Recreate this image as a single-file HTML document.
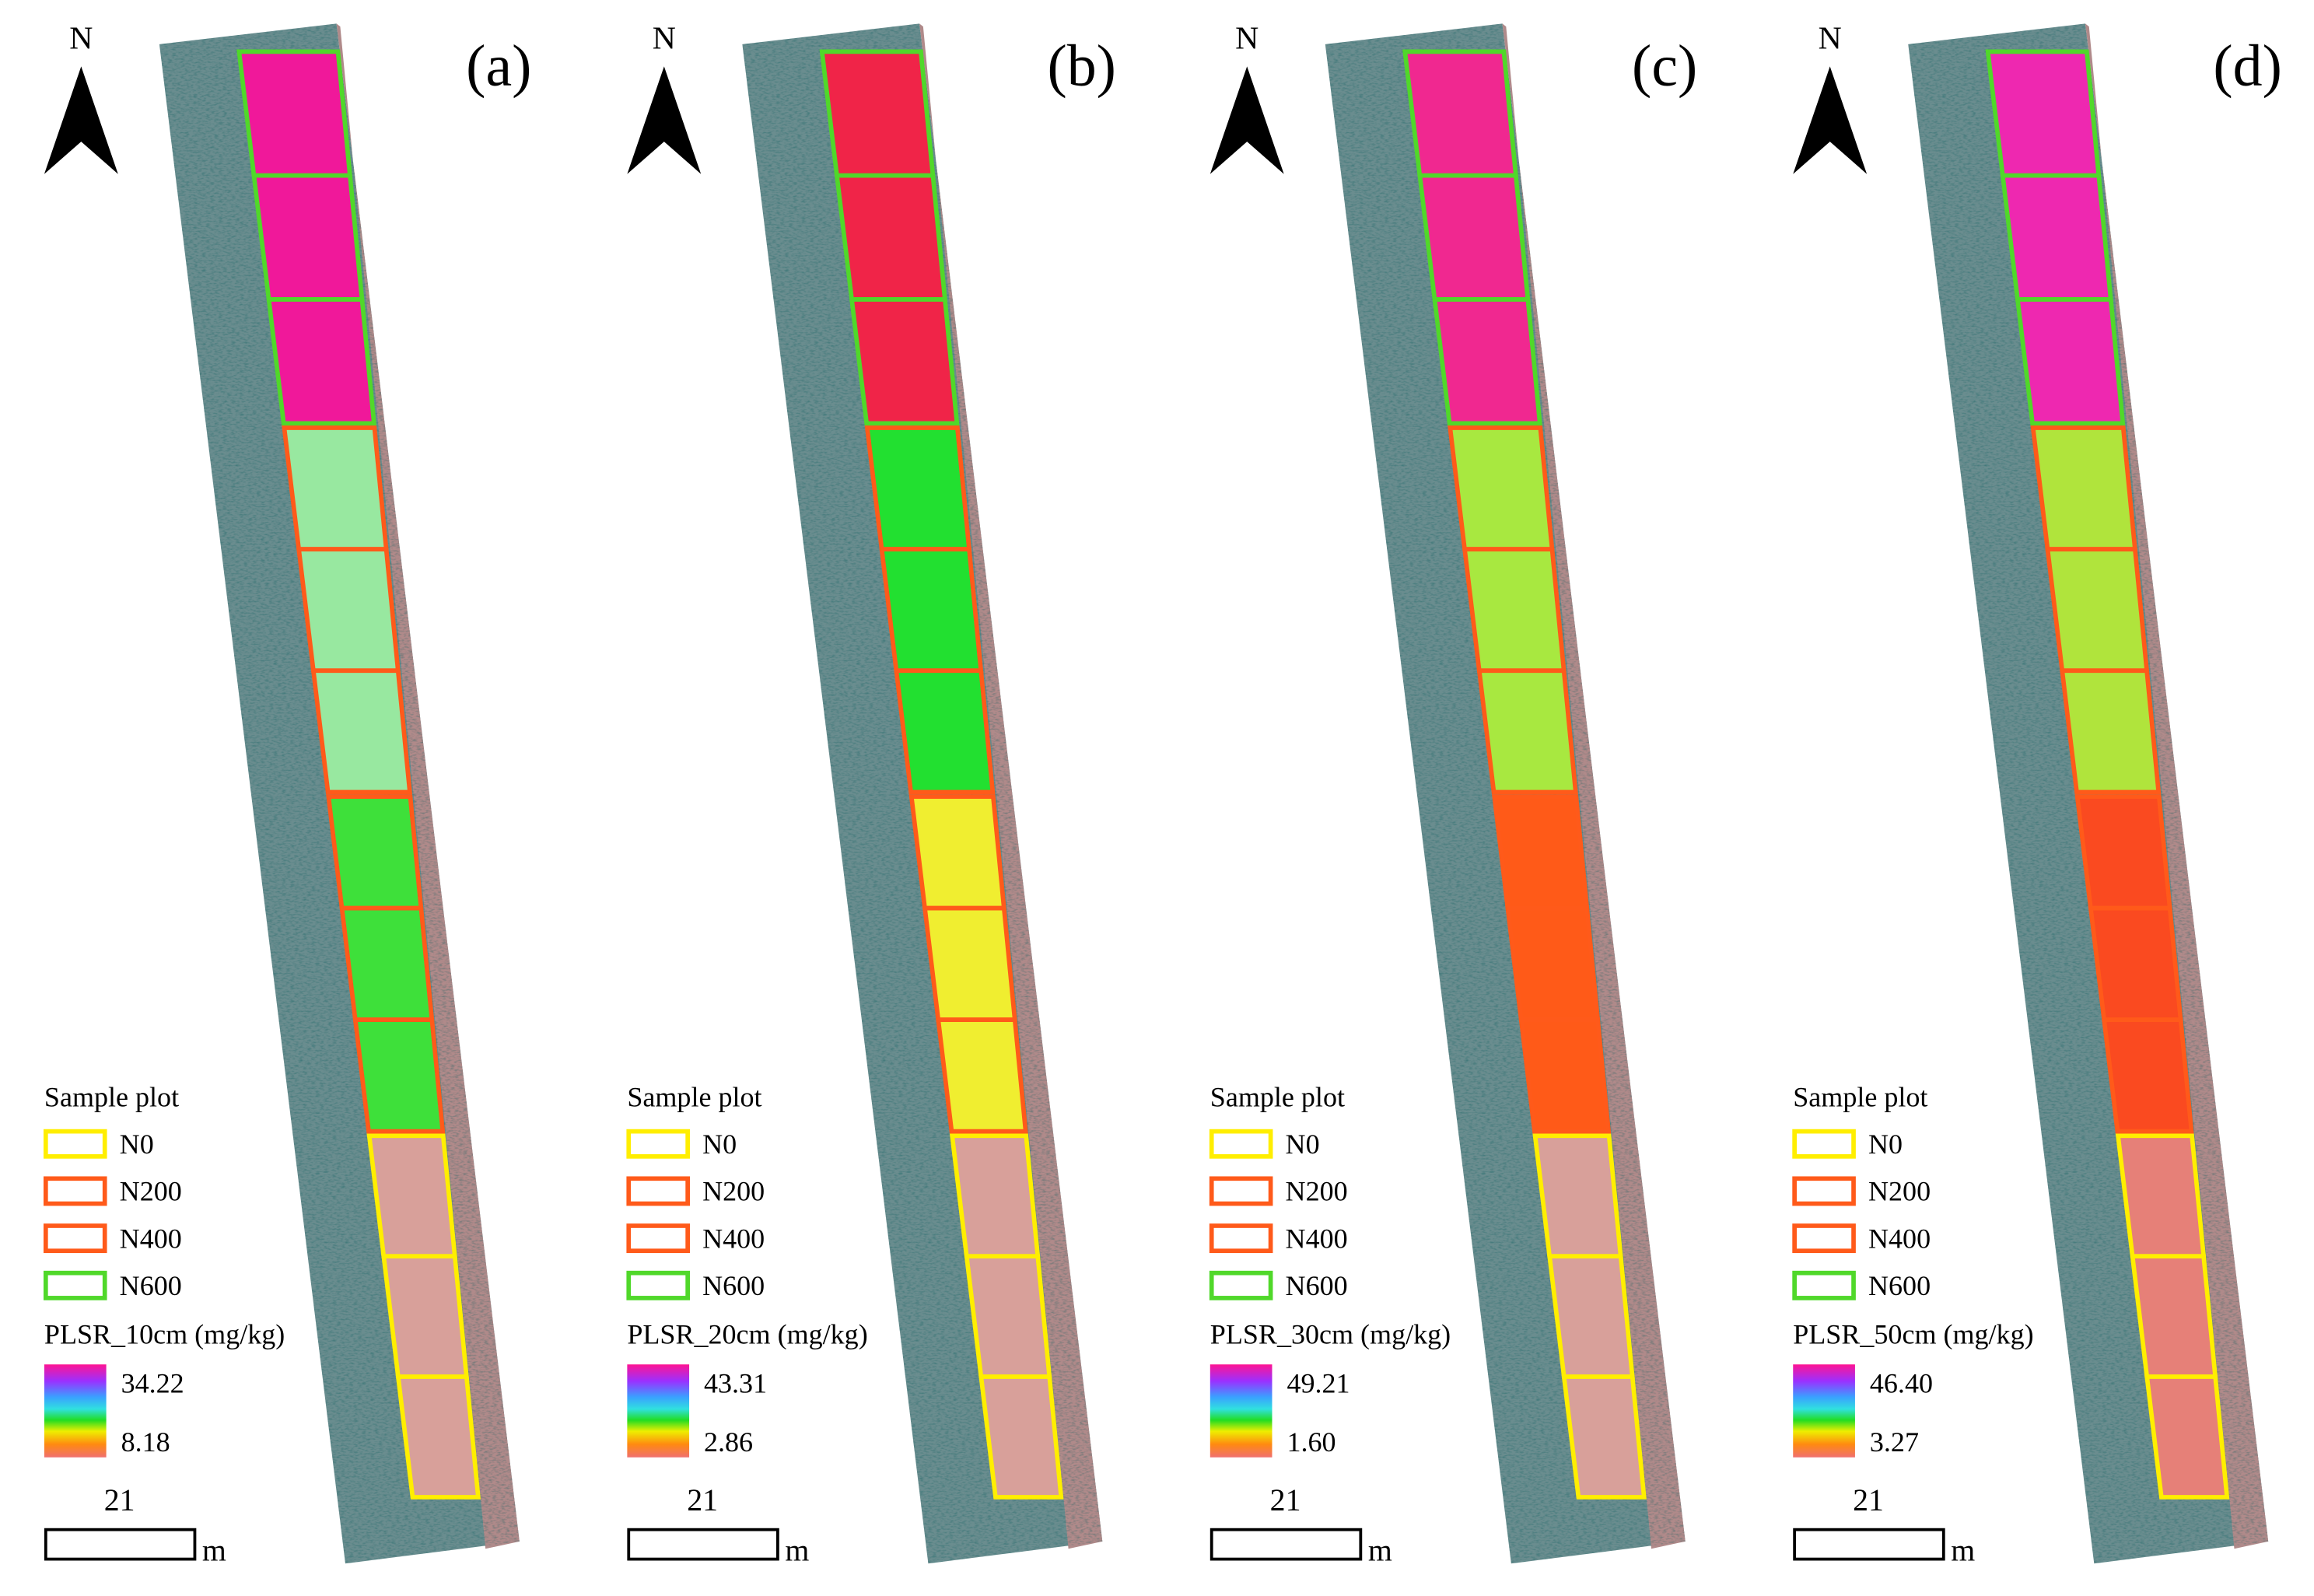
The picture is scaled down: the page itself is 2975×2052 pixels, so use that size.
<!DOCTYPE html>
<html><head><meta charset="utf-8"><style>
html,body{margin:0;padding:0;background:#fff;}
svg{display:block;}
text{font-family:"Liberation Serif","Times New Roman","DejaVu Serif",serif;}
</style></head><body>
<svg id="fig" width="2975" height="2052" viewBox="0 0 1568 1082" preserveAspectRatio="none" xmlns="http://www.w3.org/2000/svg">
<defs>
<linearGradient id="cbar" x1="0" y1="0" x2="0" y2="1">
<stop offset="0" stop-color="#ff1493"/><stop offset="0.18" stop-color="#9b30ff"/><stop offset="0.35" stop-color="#3aa0ff"/><stop offset="0.48" stop-color="#30e0e0"/><stop offset="0.6" stop-color="#22dd22"/><stop offset="0.72" stop-color="#eeee00"/><stop offset="0.86" stop-color="#ff8a10"/><stop offset="1" stop-color="#f07070"/>
</linearGradient>
<filter id="noise" x="0" y="0" width="1" height="1">
<feTurbulence type="fractalNoise" baseFrequency="0.35 0.9" numOctaves="2" seed="3"/>
<feColorMatrix values="0 0 0 0 0  0 0 0 0 0.1  0 0 0 0 0.1  0 0 0 1.4 -0.6"/>
<feComposite in2="SourceGraphic" operator="in"/>
</filter>
</defs>
<g id="panels"></g>
</svg>
<script>
const panelLabels = ["(a)","(b)","(c)","(d)"];
const depthLabels = ["PLSR_10cm (mg/kg)","PLSR_20cm (mg/kg)","PLSR_30cm (mg/kg)","PLSR_50cm (mg/kg)"];
const maxValues = ["34.22","43.31","49.21","46.40"];
const minValues = ["8.18","2.86","1.60","3.27"];
const treatments = ["N0","N200","N400","N600"];
const treatmentColors = ["#ffee00","#ff5a1a","#ff5a1a","#50d82a"];
const groupOutline = ["#50d82a","#ff5a1a","#ff5a1a","#ffee00"];
const fillsA = ["#f0189a","#98e8a0","#3ee03a","#d8a09a"];
const fillsB = ["#f02448","#22e030","#f0ee30","#d8a09a"];
const fillsC = ["#f02890","#a8e840","#ff5a18","#d8a09a"];
const fillsD = ["#ee28b0","#b0e43c","#fa4a20","#e68078"];
const panelFills = [fillsA, fillsB, fillsC, fillsD];
const scaleLabel = "21";

const NS = "http://www.w3.org/2000/svg";
const root = document.getElementById('panels');
function mk(tag, attrs, parent, text){
  const e = document.createElementNS(NS, tag);
  for (const k in attrs) e.setAttribute(k, attrs[k]);
  if (tag === 'text') e.style.fontFamily = '"Liberation Serif", "Times New Roman", "DejaVu Serif", serif';
  if (text !== undefined) e.textContent = text;
  parent.appendChild(e); return e;
}
const groupY = [[35,287],[290,537],[540,767],[770,1015]];
function lx(y){return 162 + 0.12*(y-35);}
function rx(y){return 229 + 0.097*(y-35);}
function sx(y){return 228 + 0.1206*(y-16);}
function quad(y0,y1){return `${lx(y0)},${y0} ${rx(y0)},${y0} ${rx(y1)},${y1} ${lx(y1)},${y1}`;}

panelLabels.forEach((lab, p) => {
  const g = mk('g', {transform:`translate(${p*395},0)`}, root);
  
  
  const strip = mk('polygon', {points:"108,30 228,16 352,1045 234,1060", fill:"#6a8d8f"}, g);
  
  
  const pink = mk('polygon', {points:`${rx(20)+3},18 ${sx(16)},16 352,1045 ${rx(1045)+2},1050`, fill:"#b08a8a"}, g);
  
  
  const tex = mk('polygon', {points:"108,30 228,16 352,1045 234,1060", fill:"#000", filter:"url(#noise)", opacity:"0.55"}, g);
  
  
  groupY.forEach((gy, gi) => {
    const y0 = gy[0], y1 = gy[1], h = (y1-y0)/3;
    for (let s=0;s<3;s++){
      const a = y0 + s*h, b = y0 + (s+1)*h;
      const q = mk('polygon', {points:quad(a,b), fill:panelFills[p][gi], stroke:groupOutline[gi], 'stroke-width':3}, g);
      
      
    }
  });
  const n = mk('text', {x:55, y:33, 'font-size':22, 'text-anchor':'middle'}, g, 'N');
  
  
  const ar = mk('polygon', {points:"55,45 80,118 55,96 30,118", fill:"#000"}, g);
  
  
  const pl = mk('text', {x:338, y:58, 'font-size':40, 'text-anchor':'middle'}, g, lab);
  
  
  const st = mk('text', {x:30, y:750, 'font-size':19}, g, 'Sample plot');
  
  
  treatments.forEach((t, i) => {
    const y = 767 + i*32;
    const r = mk('rect', {x:31, y:y, width:40, height:17, fill:"#fff", stroke:treatmentColors[i], 'stroke-width':3}, g);
    
    
    const tx = mk('text', {x:81, y:y+15, 'font-size':19}, g, t);
    
    
  });
  const dl = mk('text', {x:30, y:911, 'font-size':19}, g, depthLabels[p]);
  
  
  const cb = mk('rect', {x:30, y:925, width:42, height:63, fill:"url(#cbar)"}, g);
  
  
  const mx = mk('text', {x:82, y:944, 'font-size':19}, g, maxValues[p]);
  
  
  const mn = mk('text', {x:82, y:984, 'font-size':19}, g, minValues[p]);
  
  
  const sl = mk('text', {x:81, y:1024, 'font-size':21, 'text-anchor':'middle'}, g, scaleLabel);
  
  
  const sb = mk('rect', {x:31, y:1037, width:101, height:20, fill:"#fff", stroke:"#000", 'stroke-width':2}, g);
  
  
  const sm = mk('text', {x:137, y:1058, 'font-size':21}, g, 'm');
  
  
});
</script>
</body></html>
